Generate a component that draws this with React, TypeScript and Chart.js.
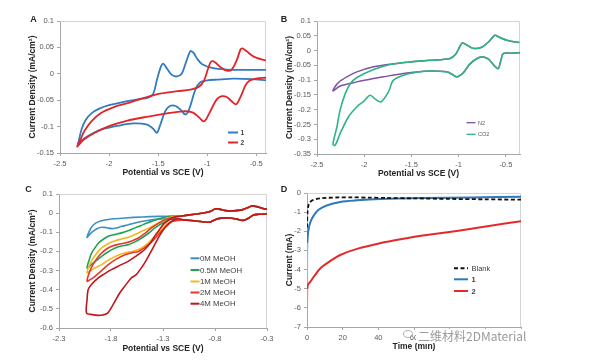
import React, { useEffect, useRef } from 'react';
import { Chart, registerables } from 'chart.js';

Chart.register(...registerables);

type Pt = [number, number];

const FONT = '"Liberation Sans", Arial, Helvetica, sans-serif';
const W = 601;
const H = 361;

// ---------------- Panel A ----------------
const aXTicks = [-2.5, -2, -1.5, -1, -0.5];
const aYTicks = [-0.15, -0.1, -0.05, 0, 0.05, 0.1];
const aLabels = ['1', '2'];
const aCurve1: Pt[] = [
  [-0.4, -0.0125], [-0.55, -0.010], [-0.73, -0.009], [-0.9, -0.011], [-1.0, -0.0125],
  [-1.07, -0.016], [-1.12, -0.03], [-1.17, -0.06], [-1.2, -0.074], [-1.225, -0.077],
  [-1.26, -0.07], [-1.32, -0.061], [-1.38, -0.061], [-1.43, -0.072], [-1.48, -0.098],
  [-1.513, -0.112], [-1.55, -0.104], [-1.62, -0.096], [-1.75, -0.094], [-1.9, -0.098],
  [-2.05, -0.104], [-2.16, -0.112], [-2.25, -0.122], [-2.3, -0.13], [-2.32, -0.135],
  [-2.31, -0.128], [-2.28, -0.105], [-2.24, -0.088], [-2.18, -0.075], [-2.1, -0.066],
  [-1.99, -0.059], [-1.85, -0.053], [-1.7, -0.048], [-1.6, -0.045], [-1.55, -0.038],
  [-1.51, -0.01], [-1.47, 0.014], [-1.445, 0.019], [-1.41, 0.01], [-1.36, -0.002],
  [-1.31, -0.005], [-1.26, 0.0], [-1.21, 0.025], [-1.17, 0.043], [-1.14, 0.04],
  [-1.1, 0.028], [-1.05, 0.018], [-0.95, 0.011], [-0.8, 0.008], [-0.6, 0.0075], [-0.4, 0.0075],
];
const aCurve2: Pt[] = [
  [-0.4, -0.0075], [-0.5, -0.009], [-0.57, -0.013], [-0.61, -0.022], [-0.65, -0.04],
  [-0.69, -0.055], [-0.71, -0.058], [-0.75, -0.052], [-0.8, -0.044], [-0.85, -0.0425],
  [-0.9, -0.048], [-0.96, -0.068], [-1.01, -0.086], [-1.04, -0.09], [-1.08, -0.083],
  [-1.15, -0.073], [-1.25, -0.071], [-1.41, -0.075], [-1.6, -0.081], [-1.82, -0.089],
  [-2.0, -0.099], [-2.15, -0.112], [-2.26, -0.125], [-2.31, -0.135], [-2.325, -0.138],
  [-2.3, -0.128], [-2.25, -0.108], [-2.18, -0.09], [-2.09, -0.075], [-1.95, -0.063],
  [-1.82, -0.056], [-1.65, -0.046], [-1.48, -0.0375], [-1.3, -0.033], [-1.17, -0.03],
  [-1.08, -0.024], [-1.03, -0.012], [-0.99, 0.01], [-0.96, 0.023], [-0.92, 0.022],
  [-0.86, 0.012], [-0.8, 0.006], [-0.75, 0.008], [-0.7, 0.025], [-0.66, 0.046],
  [-0.64, 0.048], [-0.6, 0.043], [-0.52, 0.032], [-0.4, 0.025],
];

// ---------------- Panel B ----------------
const bXTicks = [-2.5, -2, -1.5, -1, -0.5];
const bYTicks = [-0.35, -0.3, -0.25, -0.2, -0.15, -0.1, -0.05, 0, 0.05, 0.1];
const bLabels = ['N2', 'CO2'];
const bN2: Pt[] = [
  [-0.35, -0.007], [-0.45, -0.009], [-0.527, -0.010], [-0.55, -0.03], [-0.58, -0.061],
  [-0.62, -0.052], [-0.68, -0.03], [-0.739, -0.0216], [-0.8, -0.026], [-0.88, -0.045],
  [-0.95, -0.075], [-1.02, -0.089], [-1.07, -0.08], [-1.126, -0.072], [-1.302, -0.069],
  [-1.549, -0.0757], [-1.796, -0.089], [-2.077, -0.106], [-2.254, -0.12], [-2.331, -0.1365],
  [-2.30, -0.118], [-2.254, -0.103], [-2.15, -0.083], [-2.077, -0.072], [-1.9, -0.055],
  [-1.725, -0.046], [-1.514, -0.0385], [-1.302, -0.033], [-1.091, -0.027], [-1.03, -0.012],
  [-0.99, 0.012], [-0.961, 0.0257], [-0.92, 0.02], [-0.86, 0.009], [-0.809, 0.0068],
  [-0.75, 0.012], [-0.68, 0.03], [-0.615, 0.0517], [-0.57, 0.045], [-0.48, 0.034], [-0.358, 0.027],
];
const bCO2: Pt[] = [
  [-0.35, -0.007], [-0.45, -0.009], [-0.527, -0.010], [-0.55, -0.03], [-0.58, -0.061],
  [-0.62, -0.052], [-0.68, -0.03], [-0.739, -0.0216], [-0.8, -0.026], [-0.88, -0.045],
  [-0.95, -0.075], [-1.02, -0.089], [-1.07, -0.08], [-1.126, -0.072], [-1.302, -0.069],
  [-1.373, -0.07], [-1.549, -0.08], [-1.69, -0.10], [-1.743, -0.14], [-1.823, -0.174],
  [-1.88, -0.165], [-1.937, -0.151], [-2.0, -0.17], [-2.077, -0.19], [-2.166, -0.224],
  [-2.254, -0.28], [-2.307, -0.32], [-2.331, -0.317], [-2.289, -0.258], [-2.254, -0.2],
  [-2.2, -0.145], [-2.148, -0.112], [-2.077, -0.091], [-1.9, -0.064], [-1.725, -0.047],
  [-1.514, -0.0385], [-1.302, -0.033], [-1.091, -0.027], [-1.03, -0.012], [-0.99, 0.012],
  [-0.961, 0.0257], [-0.92, 0.02], [-0.86, 0.009], [-0.809, 0.0068], [-0.75, 0.012],
  [-0.68, 0.03], [-0.615, 0.0517], [-0.57, 0.045], [-0.48, 0.034], [-0.358, 0.027],
];

// ---------------- Panel C ----------------
const cXTicks = [-2.3, -1.8, -1.3, -0.8, -0.3];
const cYTicks = [-0.6, -0.5, -0.4, -0.3, -0.2, -0.1, 0, 0.1];
const cLabels = ['0M MeOH', '0.5M MeOH', '1M MeOH', '2M MeOH', '4M MeOH'];
const cLowerRight: Pt[] = [
  [-0.3, -0.004], [-0.38, -0.006], [-0.43, -0.010], [-0.48, -0.027], [-0.53, -0.038],
  [-0.6, -0.03], [-0.66, -0.025], [-0.74, -0.026], [-0.8, -0.034], [-0.85, -0.047],
  [-0.92, -0.045], [-1.0, -0.04], [-1.1, -0.035],
];
const cUpperRight: Pt[] = [
  [-1.12, -0.015], [-1.0, -0.006], [-0.9, 0.002], [-0.84, 0.01], [-0.8, 0.022],
  [-0.76, 0.021], [-0.7, 0.013], [-0.62, 0.012], [-0.54, 0.017], [-0.48, 0.03],
  [-0.44, 0.038], [-0.4, 0.034], [-0.34, 0.024], [-0.3, 0.02],
];
const c0MLower: Pt[] = [
  [-1.2, -0.03], [-1.345, -0.031], [-1.45, -0.038], [-1.57, -0.051], [-1.64, -0.062],
  [-1.697, -0.069], [-1.75, -0.078], [-1.793, -0.081], [-1.84, -0.076], [-1.89, -0.074],
  [-1.93, -0.08], [-1.97, -0.094], [-2.0, -0.108], [-2.03, -0.127],
];
const c0MUpper: Pt[] = [
  [-2.0, -0.085], [-1.97, -0.062], [-1.93, -0.047], [-1.86, -0.036], [-1.76, -0.029],
  [-1.665, -0.025], [-1.5, -0.02], [-1.345, -0.017], [-1.2, -0.015],
];
const c05MLower: Pt[] = [
  [-1.216, -0.032], [-1.3, -0.05], [-1.377, -0.077], [-1.44, -0.105], [-1.505, -0.13],
  [-1.57, -0.15], [-1.634, -0.165], [-1.7, -0.172], [-1.76, -0.182], [-1.83, -0.203],
  [-1.89, -0.226], [-1.95, -0.252], [-1.99, -0.269], [-2.03, -0.287],
];
const c05MUpper: Pt[] = [
  [-2.01, -0.245], [-1.986, -0.208], [-1.95, -0.178], [-1.92, -0.156], [-1.87, -0.135],
  [-1.826, -0.121], [-1.76, -0.111], [-1.697, -0.103], [-1.63, -0.091], [-1.57, -0.077],
  [-1.49, -0.06], [-1.41, -0.043], [-1.33, -0.028], [-1.25, -0.019],
];
const c1MLower: Pt[] = [
  [-1.25, -0.05], [-1.31, -0.085], [-1.377, -0.121], [-1.44, -0.155], [-1.505, -0.182],
  [-1.55, -0.193], [-1.6, -0.2], [-1.68, -0.21], [-1.76, -0.226], [-1.83, -0.247],
  [-1.89, -0.269], [-1.95, -0.285], [-1.99, -0.297], [-2.03, -0.312],
];
const c1MUpper: Pt[] = [
  [-2.01, -0.275], [-1.97, -0.234], [-1.93, -0.205], [-1.89, -0.182], [-1.83, -0.16],
  [-1.76, -0.144], [-1.7, -0.135], [-1.634, -0.126], [-1.57, -0.112], [-1.505, -0.095],
  [-1.42, -0.073], [-1.345, -0.051], [-1.28, -0.032], [-1.216, -0.02],
];
const c2MLower: Pt[] = [
  [-1.216, -0.043], [-1.28, -0.075], [-1.345, -0.112], [-1.39, -0.14], [-1.44, -0.165],
  [-1.49, -0.185], [-1.537, -0.2], [-1.6, -0.207], [-1.665, -0.217], [-1.75, -0.24],
  [-1.826, -0.269], [-1.89, -0.3], [-1.954, -0.33], [-2.0, -0.347], [-2.03, -0.356],
];
const c2MUpper: Pt[] = [
  [-2.015, -0.32], [-1.99, -0.286], [-1.95, -0.248], [-1.906, -0.217], [-1.85, -0.19],
  [-1.793, -0.173], [-1.73, -0.163], [-1.665, -0.156], [-1.6, -0.145], [-1.537, -0.13],
  [-1.47, -0.104], [-1.41, -0.077], [-1.34, -0.052], [-1.28, -0.034], [-1.2, -0.022],
];
const c4MLower: Pt[] = [
  [-1.16, -0.028], [-1.22, -0.045], [-1.28, -0.075], [-1.33, -0.115], [-1.38, -0.165],
  [-1.43, -0.215], [-1.476, -0.26], [-1.52, -0.295], [-1.557, -0.321], [-1.605, -0.339],
  [-1.668, -0.382], [-1.716, -0.417], [-1.78, -0.478], [-1.829, -0.521], [-1.88, -0.532],
  [-1.925, -0.534], [-1.98, -0.53], [-2.035, -0.522],
];
const c4MUpper: Pt[] = [
  [-2.03, -0.45], [-2.02, -0.4], [-1.99, -0.374], [-1.925, -0.339], [-1.86, -0.316],
  [-1.797, -0.295], [-1.72, -0.274], [-1.636, -0.252], [-1.56, -0.225], [-1.476, -0.19],
  [-1.42, -0.155], [-1.38, -0.12], [-1.33, -0.083], [-1.29, -0.055], [-1.24, -0.035],
  [-1.185, -0.02],
];

// ---------------- Panel D ----------------
const dXTicks = [0, 20, 40, 60, 80, 100, 120];
const dYTicks = [-7, -6, -5, -4, -3, -2, -1, 0];
const dLabels = ['Blank', '1', '2'];
const dBlankT = [0, 0.3, 0.8, 1.5, 3, 5, 8, 12, 18, 25, 35, 45, 60, 80, 100, 120];
const dBlankI = [-1.8, -1.0, -0.65, -0.5, -0.38, -0.32, -0.27, -0.25, -0.23, -0.23, -0.24, -0.26, -0.28, -0.31, -0.33, -0.35];
const d1T = [0, 0.2, 0.5, 1, 2, 4, 6.5, 11, 18.6, 28, 41, 65, 93, 120];
const d1I = [-4.4, -2.6, -2.15, -1.84, -1.49, -1.14, -0.875, -0.65, -0.47, -0.385, -0.315, -0.26, -0.23, -0.19];
const d2T = [0, 0.2, 0.5, 2, 4, 7.4, 12, 18.6, 28, 41, 56, 65, 84, 102, 120];
const d2I = [-6.2, -5.0, -4.8, -4.62, -4.35, -3.94, -3.62, -3.24, -2.92, -2.62, -2.36, -2.22, -1.98, -1.72, -1.48];

// ---------------- helpers ----------------
const toXY = (pts: Pt[]) => pts.map(([x, y]) => ({ x, y }));
const zipXY = (xs: number[], ys: number[]) => xs.map((x, i) => ({ x, y: ys[i] }));
const fmt = (v: number) => String(Math.round(v * 1000) / 1000);

interface LegendItem { label: string; color: string; dash?: number[]; bold?: boolean; width?: number }
interface LegendSpec { items: LegendItem[]; x1: number; x2: number; tx: number; ys: number[]; size: number; textColor: string }

interface PanelSpec {
  datasets: any[];
  x: { min: number; max: number; ticks: number[]; title: string };
  y: { min: number; max: number; ticks: number[]; title: string };
  area: { l: number; r: number; t: number; b: number };
  yTitleX: number;
  xTitleY: number;
  legend: LegendSpec;
}

const TITLE_SIZE = 8.5;
const TICK_SIZE = 7.5;

function buildConfig(p: PanelSpec): any {
  const lh = TITLE_SIZE * 1.2;
  const padLeft = p.yTitleX - lh / 2;
  const yW = p.area.l - padLeft;
  const xBottom = p.xTitleY + lh / 2;
  const padBottom = H - xBottom;
  const xH = xBottom - p.area.b;

  const axis = (a: { min: number; max: number; ticks: number[]; title: string }) => ({
    type: 'linear',
    min: a.min,
    max: a.max,
    afterBuildTicks: (s: any) => {
      s.ticks = a.ticks.map((v) => ({ value: v }));
    },
    ticks: {
      autoSkip: false,
      maxRotation: 0,
      minRotation: 0,
      font: { family: FONT, size: TICK_SIZE },
      color: '#595959',
      padding: 3,
      callback: (v: any) => fmt(Number(v)),
    },
    grid: { display: true, drawOnChartArea: false, drawTicks: true, tickLength: 3, color: '#a6a6a6', lineWidth: 1 },
    border: { display: true, color: '#a6a6a6', width: 1 },
    title: {
      display: true,
      text: a.title,
      font: { family: FONT, size: TITLE_SIZE, weight: 'bold' },
      color: '#262626',
      padding: { top: 0, bottom: 0 },
    },
  });

  const legend = p.legend;
  const legendPlugin = {
    id: 'panelLegend',
    afterDraw(chart: any) {
      const ctx = chart.ctx as CanvasRenderingContext2D;
      ctx.save();
      legend.items.forEach((it, i) => {
        const y = legend.ys[i];
        ctx.beginPath();
        ctx.strokeStyle = it.color;
        ctx.lineWidth = it.width || 2;
        ctx.setLineDash(it.dash || []);
        ctx.moveTo(legend.x1, y);
        ctx.lineTo(legend.x2, y);
        ctx.stroke();
        ctx.setLineDash([]);
        ctx.fillStyle = legend.textColor;
        ctx.font = `${it.bold ? 'bold ' : ''}${legend.size}px ${FONT}`;
        ctx.textAlign = 'left';
        ctx.textBaseline = 'middle';
        ctx.fillText(it.label, legend.tx, y + 0.5);
      });
      ctx.restore();
    },
  };
  const framePlugin = {
    id: 'frame',
    beforeDatasetsDraw(chart: any) {
      const { left, top, right, bottom } = chart.chartArea;
      const ctx = chart.ctx as CanvasRenderingContext2D;
      ctx.save();
      ctx.strokeStyle = '#d4d4d4';
      ctx.lineWidth = 1;
      ctx.beginPath();
      ctx.moveTo(Math.round(left), Math.round(top) + 0.5);
      ctx.lineTo(Math.round(right) - 0.5, Math.round(top) + 0.5);
      ctx.lineTo(Math.round(right) - 0.5, Math.round(bottom));
      ctx.stroke();
      ctx.restore();
    },
  };

  return {
    type: 'scatter',
    data: { datasets: p.datasets },
    options: {
      animation: false,
      responsive: false,
      events: [],
      layout: { padding: { left: padLeft, right: W - p.area.r, top: p.area.t, bottom: padBottom } },
      plugins: { legend: { display: false }, tooltip: { enabled: false } },
      elements: { point: { radius: 0 } },
      scales: {
        x: { ...axis(p.x), position: 'bottom', afterFit: (s: any) => { s.height = xH; } },
        y: { ...axis(p.y), position: 'left', afterFit: (s: any) => { s.width = yW; } },
      },
    },
    plugins: [framePlugin, legendPlugin],
  };
}

// order: lower value is drawn on top
const line = (label: string, data: any[], color: string, order: number, width = 1.8, extra: any = {}) => ({
  label,
  data,
  order,
  showLine: true,
  borderColor: color,
  backgroundColor: color,
  borderWidth: width,
  pointRadius: 0,
  tension: 0.3,
  fill: false,
  ...extra,
});

const COL = {
  aBlue: '#2f7cc0', aRed: '#e1262b',
  bPurple: '#7d53a3', bGreen: '#2fb486',
  cBlue: '#3d8fc6', cGreen: '#1fa354', cYellow: '#f4b81c', cRed: '#e8372c', cDark: '#c0161c',
  dBlue: '#2a79bd', dRed: '#e32a2a',
};

const specA: PanelSpec = {
  datasets: [
    line(aLabels[0], toXY(aCurve1), COL.aBlue, 1),
    line(aLabels[1], toXY(aCurve2), COL.aRed, 0),
  ],
  x: { min: -2.5, max: -0.4, ticks: aXTicks, title: 'Potential vs SCE (V)' },
  y: { min: -0.15, max: 0.1, ticks: aYTicks, title: 'Current Density (mA/cm²)' },
  area: { l: 60, r: 266, t: 21, b: 153 },
  yTitleX: 33,
  xTitleY: 173,
  legend: {
    items: [
      { label: aLabels[0], color: COL.aBlue, bold: true },
      { label: aLabels[1], color: COL.aRed, bold: true },
    ],
    x1: 228, x2: 238, tx: 240.5, ys: [132.5, 142.5], size: 6.5, textColor: '#404040',
  },
};

const specB: PanelSpec = {
  datasets: [
    line(bLabels[0], toXY(bN2), COL.bPurple, 1, 1.5),
    line(bLabels[1], toXY(bCO2), COL.bGreen, 0, 1.6),
  ],
  x: { min: -2.5, max: -0.35, ticks: bXTicks, title: 'Potential vs SCE (V)' },
  y: { min: -0.35, max: 0.1, ticks: bYTicks, title: 'Current Density (mA/cm²)' },
  area: { l: 317, r: 520, t: 21, b: 154 },
  yTitleX: 290,
  xTitleY: 173.3,
  legend: {
    items: [
      { label: bLabels[0], color: COL.bPurple, width: 1.3 },
      { label: bLabels[1], color: COL.bGreen, width: 1.3 },
    ],
    x1: 466.5, x2: 475.5, tx: 478, ys: [122.7, 134.3], size: 5.5, textColor: '#595959',
  },
};

const specC: PanelSpec = {
  datasets: [
    line(cLabels[0], toXY([...cLowerRight, ...c0MLower, ...c0MUpper, ...cUpperRight]), COL.cBlue, 4, 1.6),
    line(cLabels[1], toXY([...cLowerRight, ...c05MLower, ...c05MUpper, ...cUpperRight]), COL.cGreen, 3, 1.6),
    line(cLabels[2], toXY([...cLowerRight, ...c1MLower, ...c1MUpper, ...cUpperRight]), COL.cYellow, 2, 1.6),
    line(cLabels[3], toXY([...cLowerRight, ...c2MLower, ...c2MUpper, ...cUpperRight]), COL.cRed, 1, 1.6),
    line(cLabels[4], toXY([...cLowerRight, ...c4MLower, ...c4MUpper, ...cUpperRight]), COL.cDark, 0, 1.6),
  ],
  x: { min: -2.3, max: -0.3, ticks: cXTicks, title: 'Potential vs SCE (V)' },
  y: { min: -0.6, max: 0.1, ticks: cYTicks, title: 'Current Density (mA/cm²)' },
  area: { l: 59, r: 267, t: 194, b: 328 },
  yTitleX: 33,
  xTitleY: 348.3,
  legend: {
    items: [
      { label: cLabels[0], color: COL.cBlue },
      { label: cLabels[1], color: COL.cGreen },
      { label: cLabels[2], color: COL.cYellow },
      { label: cLabels[3], color: COL.cRed },
      { label: cLabels[4], color: COL.cDark },
    ],
    x1: 190.5, x2: 199.5, tx: 200, ys: [258.3, 270, 281.5, 292.5, 303.7], size: 7.8, textColor: '#404040',
  },
};

const specD: PanelSpec = {
  datasets: [
    line(dLabels[0], zipXY(dBlankT, dBlankI), '#111111', 0, 1.8, { borderDash: [4, 2.5] }),
    line(dLabels[1], zipXY(d1T, d1I), COL.dBlue, 1, 2, {
      segment: { borderColor: (c: any) => (c.p0.parsed.x < 0.15 ? '#86bde6' : undefined) },
    }),
    line(dLabels[2], zipXY(d2T, d2I), COL.dRed, 2, 2, {
      segment: { borderColor: (c: any) => (c.p0.parsed.x < 0.15 ? '#f08a8a' : undefined) },
    }),
  ],
  x: { min: 0, max: 120, ticks: dXTicks, title: 'Time (min)' },
  y: { min: -7, max: 0, ticks: dYTicks, title: 'Current (mA)' },
  area: { l: 307, r: 521, t: 193, b: 327 },
  yTitleX: 290,
  xTitleY: 346.7,
  legend: {
    items: [
      { label: dLabels[0], color: '#111111', dash: [4, 2.5], width: 2 },
      { label: dLabels[1], color: COL.dBlue, bold: true },
      { label: dLabels[2], color: COL.dRed, bold: true },
    ],
    x1: 454, x2: 468, tx: 471.5, ys: [268.3, 279.3, 291], size: 7.5, textColor: '#404040',
  },
};

function Panel({ spec }: { spec: PanelSpec }) {
  const ref = useRef<HTMLCanvasElement | null>(null);
  useEffect(() => {
    if (!ref.current) return;
    const chart = new Chart(ref.current, buildConfig(spec));
    return () => chart.destroy();
  }, [spec]);
  return (
    <canvas
      ref={ref}
      width={W}
      height={H}
      style={{ position: 'absolute', left: 0, top: 0, width: W, height: H }}
    />
  );
}

const letterStyle = (x: number, y: number): React.CSSProperties => ({
  position: 'absolute',
  left: x,
  top: y,
  transform: 'translate(-50%, -50%)',
  font: `bold 9px ${FONT}`,
  color: '#262626',
  lineHeight: '10px',
});

export default function App() {
  return (
    <div style={{ position: 'absolute', left: 0, top: 0, width: W, height: H, background: '#ffffff', overflow: 'hidden' }}>
      <Panel spec={specA} />
      <Panel spec={specB} />
      <Panel spec={specC} />
      <Panel spec={specD} />
      <div style={letterStyle(33.5, 18.5)}>A</div>
      <div style={letterStyle(284, 18.5)}>B</div>
      <div style={letterStyle(28.5, 188.5)}>C</div>
      <div style={letterStyle(284, 188.5)}>D</div>
      <div
        style={{
          position: 'absolute', left: 403, top: 330, width: 10, height: 8,
          border: '1px solid #b0b0b0', borderRadius: '50%', boxSizing: 'border-box',
        }}
      />
      <div
        style={{
          position: 'absolute', left: 416, top: 329, height: 14, padding: '0 2px',
          background: '#ffffff', color: '#9a9a9a',
          font: `12px "Noto Sans CJK SC", "Noto Sans", sans-serif`, lineHeight: '14px', whiteSpace: 'nowrap',
        }}
      >
        二维材料2DMaterial
      </div>
    </div>
  );
}
